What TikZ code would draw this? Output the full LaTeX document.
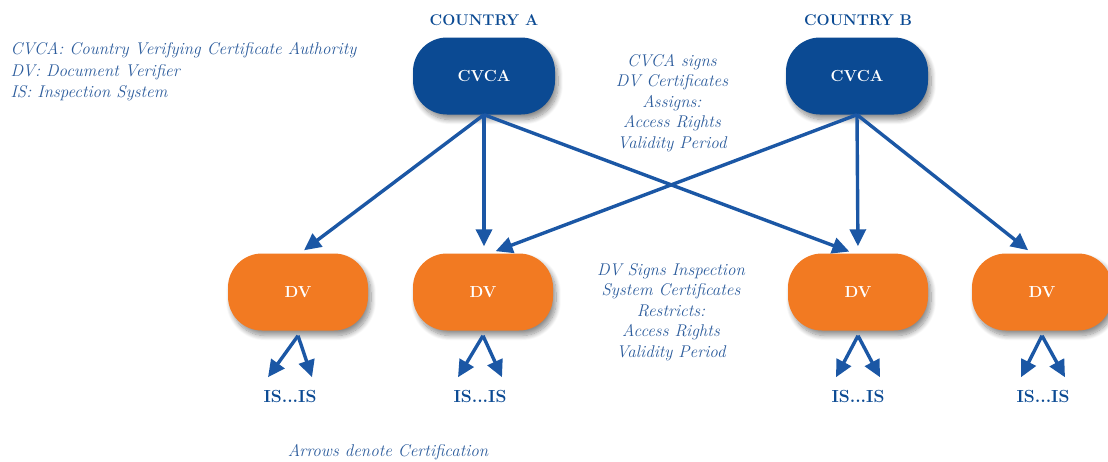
\documentclass[tikz,border=0pt]{standalone}
\usetikzlibrary{arrows.meta,shadows.blur,calc}
\definecolor{cvcablue}{HTML}{0B4A93}
\definecolor{arrowblue}{HTML}{1B57A5}
\definecolor{noteblue}{HTML}{2C5C9C}
\definecolor{dvorange}{HTML}{F27A22}
\tikzset{
  authbox/.style={fill=cvcablue, rounded corners=34pt, minimum width=142pt, minimum height=77pt,
    text=white, font=\fontsize{16}{19}\selectfont\bfseries,
    blur shadow={shadow xshift=3pt, shadow yshift=-5pt, shadow opacity=45, shadow blur steps=10, shadow blur radius=5pt}},
  verbox/.style={authbox, fill=dvorange, minimum width=140pt},
  country/.style={text=cvcablue, font=\fontsize{15.5}{18}\selectfont\bfseries},
  islabel/.style={text=cvcablue, font=\fontsize{17.5}{20}\selectfont\bfseries},
  note/.style={text=noteblue, font=\fontsize{17}{20.5}\selectfont\itshape, align=center},
  certarrow/.style={draw=arrowblue, line width=3.4pt, -{Triangle[length=17pt,width=16pt]}}
}
\begin{document}
\begin{tikzpicture}[x=1pt,y=-1pt]
\path[use as bounding box] (0,0) rectangle (1108,461);

% legend
\node[note, anchor=north west, align=left, font=\fontsize{17}{21.5}\selectfont\itshape] (legend) at (7,39)
  {CVCA: Country Verifying Certificate Authority\\DV: Document Verifier\\IS: Inspection System};

% country authorities
\node[country] (ctyA) at (484,20) {COUNTRY A};
\node[country] (ctyB) at (858,20) {COUNTRY B};
\node[authbox] (cvcaA) at (484,76) {CVCA};
\node[authbox] (cvcaB) at (857,76) {CVCA};

% document verifiers
\node[verbox] (dv1) at (298,292) {DV};
\node[verbox] (dv2) at (483,292) {DV};
\node[verbox] (dv3) at (858,292) {DV};
\node[verbox] (dv4) at (1042,292) {DV};

% inspection systems
\node[islabel] (is1) at (290,396) {IS...IS};
\node[islabel] (is2) at (480,396) {IS...IS};
\node[islabel] (is3) at (858,396) {IS...IS};
\node[islabel] (is4) at (1043,396) {IS...IS};

% explanatory notes
\node[note] (signA) at (672,103)
  {CVCA signs\\DV Certificates\\Assigns:\\Access Rights\\Validity Period};
\node[note] (signDV) at (671,312)
  {DV Signs Inspection\\System Certificates\\Restricts:\\Access Rights\\Validity Period};
\node[note] (caption) at (388,452) {Arrows denote Certification};

% CVCA -> DV certification
\draw[certarrow, shorten >=5pt] (cvcaA.south) -- ([xshift=2pt]dv1.north);
\draw[certarrow, shorten >=7pt] (cvcaA.south) -- ([xshift=1pt]dv2.north);
\draw[certarrow, shorten >=5pt] (cvcaA.south) -- ([xshift=-4pt]dv3.north);
\draw[certarrow, shorten >=6pt] (cvcaB.south) -- ([xshift=7pt]dv2.north);
\draw[certarrow, shorten >=7pt] (cvcaB.south) -- (dv3.north);
\draw[certarrow, shorten >=5pt] (cvcaB.south) -- ([xshift=-10pt]dv4.north);

% DV -> IS certification
\foreach \d/\i in {dv1/is1, dv2/is2, dv3/is3, dv4/is4}{
  \coordinate (\d root) at ([yshift=-5pt]\d.south);
  \coordinate (\d left) at ([xshift=-22pt,yshift=9pt]\i.north);
  \coordinate (\d right) at ([xshift=22pt,yshift=9pt]\i.north);
  \draw[certarrow] (\d root) -- (\d left);
  \draw[certarrow] (\d root) -- (\d right);
}
\end{tikzpicture}
\end{document}
